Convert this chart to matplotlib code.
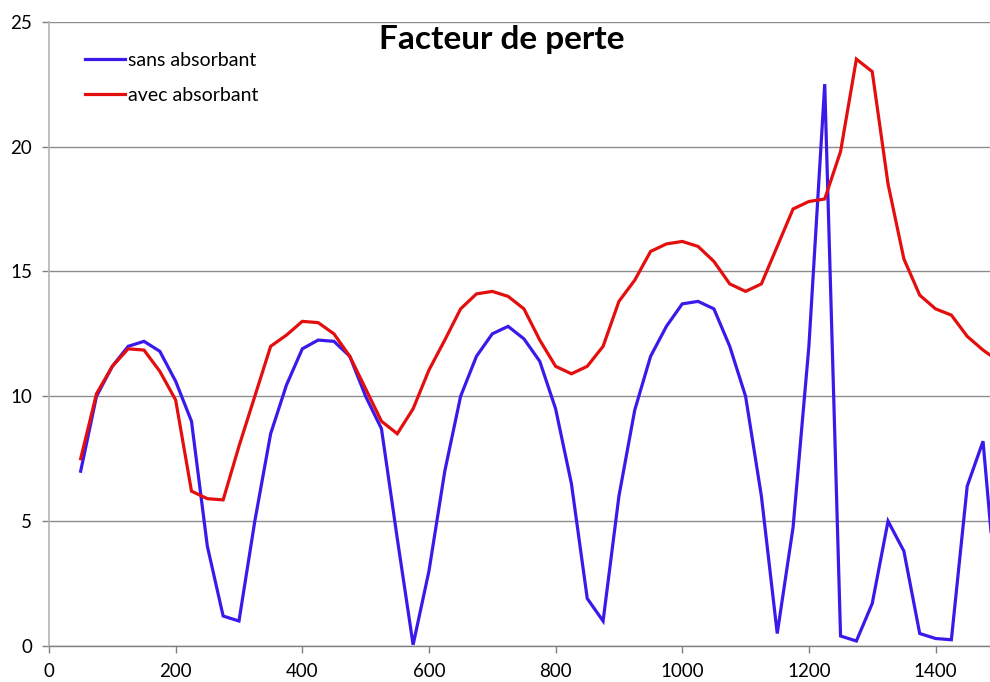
import matplotlib.pyplot as plt

# frequency steps (Hz) and loss factor values for both configurations
freq = [50, 75, 100, 125, 150, 175, 200, 225, 250, 275, 300, 325, 350, 375,
        400, 425, 450, 475, 500, 525, 550, 575, 600, 625, 650, 675, 700, 725,
        750, 775, 800, 825, 850, 875, 900, 925, 950, 975, 1000, 1025, 1050,
        1075, 1100, 1125, 1150, 1175, 1200, 1225, 1250, 1275, 1300, 1325,
        1350, 1375, 1400, 1425, 1450, 1475, 1500]

sans_absorbant = [7.0, 10.0, 11.2, 12.0, 12.2, 11.8, 10.6, 9.0, 4.0, 1.2,
                  1.0, 5.0, 8.5, 10.45, 11.9, 12.25, 12.2, 11.6, 10.0, 8.7,
                  4.3, 0.05, 3.0, 7.0, 10.0, 11.6, 12.5, 12.8, 12.3, 11.4,
                  9.5, 6.5, 1.9, 1.0, 6.0, 9.45, 11.6, 12.8, 13.7, 13.8,
                  13.5, 12.0, 10.0, 6.0, 0.5, 4.75, 12.0, 22.5, 0.4, 0.2,
                  1.7, 5.0, 3.8, 0.5, 0.3, 0.25, 6.4, 8.2, 1.0]

avec_absorbant = [7.5, 10.1, 11.2, 11.9, 11.85, 11.0, 9.85, 6.2, 5.9, 5.85,
                  8.0, 10.0, 12.0, 12.45, 13.0, 12.95, 12.5, 11.6, 10.3, 9.0,
                  8.5, 9.5, 11.05, 12.25, 13.5, 14.1, 14.2, 14.0, 13.5, 12.25,
                  11.2, 10.9, 11.2, 12.0, 13.8, 14.65, 15.8, 16.1, 16.2, 16.0,
                  15.4, 14.5, 14.2, 14.5, 16.0, 17.5, 17.8, 17.9, 19.8, 23.5,
                  23.0, 18.5, 15.5, 14.05, 13.5, 13.25, 12.4, 11.85, 11.4]

x_ticks = [0, 200, 400, 600, 800, 1000, 1200, 1400]
y_ticks = [0, 5, 10, 15, 20, 25]

plt.rcParams['font.family'] = ['Lato', 'DejaVu Sans']

fig = plt.figure(figsize=(9.9, 6.82), dpi=100)
ax = fig.add_axes([0.0495, 0.0528, 0.9505, 0.9154])

ax.plot(freq, sans_absorbant, color='#3a1aeb', linewidth=2.3,
        label='sans absorbant', solid_joinstyle='miter')
ax.plot(freq, avec_absorbant, color='#e40e0e', linewidth=2.3,
        label='avec absorbant', solid_joinstyle='miter')

ax.set_xlim(0, 1486)
ax.set_ylim(0, 25)
ax.set_xticks(x_ticks)
ax.set_yticks(y_ticks)
ax.tick_params(axis='both', labelsize=13.5, colors='#808080',
               labelcolor='black', length=5, width=1)
ax.tick_params(axis='x', pad=7)
ax.tick_params(axis='y', pad=7)

ax.grid(axis='y', color='#8c8c8c', linewidth=1)
ax.set_axisbelow(True)
for side in ('top', 'right'):
    ax.spines[side].set_visible(False)
ax.spines['left'].set_color('#b4b4b4')
ax.spines['left'].set_linewidth(1.2)
ax.spines['bottom'].set_color('#808080')
ax.spines['bottom'].set_linewidth(1)

ax.text(0.4814, 0.9707, 'Facteur de perte', transform=ax.transAxes,
        ha='center', va='center', fontsize=24, fontweight='bold')

ax.legend(loc='upper left', bbox_to_anchor=(0.02, 0.98), frameon=False,
          fontsize=14, handlelength=2.06, handletextpad=0.15,
          labelspacing=0.93)

fig.savefig('out.png', dpi=100)
